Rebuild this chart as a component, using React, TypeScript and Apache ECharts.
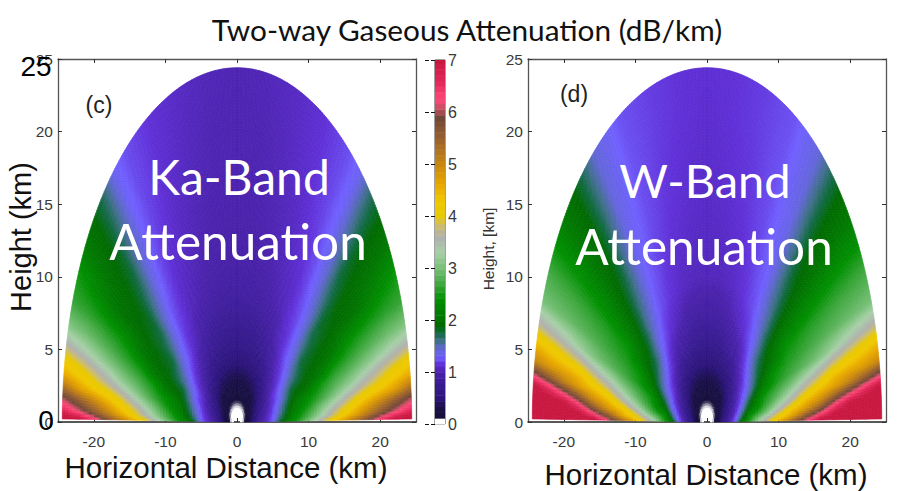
import React, { useEffect, useRef } from "react";
import * as echarts from "echarts";

const elevationsDeg = [0.5, 2, 4, 6, 8, 10, 13, 16, 20, 25, 30, 35, 40, 45, 50, 60, 70, 80, 90];
const rangesKm = [0.5, 1, 1.5, 2, 3, 4, 5, 6, 8, 10, 12, 14, 16, 18, 20, 22, 24.4];

// attenuation (dB/km): one row per elevation, one column per range
const kaAttenuation = [
  [0, .11, .25, .42, .8, 1.08, 1.3, 1.8, 2.4, 3.0, 3.78, 4.45, 5.08, 5.7, 6.4, 7, 7.4],
  [0, .11, .25, .42, .8, 1.05, 1.28, 1.65, 2.28, 2.8, 3.35, 3.95, 4.5, 5.05, 5.6, 6.1, 6.6],
  [0, .11, .25, .4, .78, 1.03, 1.25, 1.6, 2.2, 2.65, 3.15, 3.7, 4.15, 4.6, 5.05, 5.5, 6.0],
  [0, .11, .24, .38, .75, 1.0, 1.23, 1.52, 2.12, 2.5, 2.95, 3.35, 3.8, 4.18, 4.43, 4.68, 5.2],
  [0, .1, .24, .37, .72, .98, 1.2, 1.48, 2.05, 2.4, 2.72, 3.07, 3.42, 3.74, 4.0, 4.28, 4.55],
  [0, .1, .23, .36, .7, .95, 1.18, 1.45, 2.0, 2.32, 2.6, 2.88, 3.12, 3.42, 3.7, 3.95, 4.2],
  [0, .1, .22, .34, .66, .92, 1.15, 1.35, 1.88, 2.05, 2.43, 2.65, 2.82, 3.0, 3.2, 3.38, 3.58],
  [0, .1, .21, .32, .62, .88, 1.1, 1.3, 1.82, 1.92, 2.1, 2.42, 2.58, 2.72, 2.85, 2.97, 3.05],
  [0, .09, .2, .3, .58, .82, 1.1, 1.26, 1.62, 1.86, 1.93, 2.05, 2.32, 2.45, 2.53, 2.6, 2.65],
  [0, .08, .19, .27, .52, .75, 1.0, 1.15, 1.45, 1.78, 1.84, 1.9, 1.95, 2.0, 2.15, 2.3, 2.45],
  [0, .08, .18, .25, .46, .68, .92, 1.06, 1.32, 1.52, 1.72, 1.82, 1.88, 1.93, 1.97, 2.03, 2.1],
  [0, .07, .17, .22, .42, .62, .85, 1.0, 1.22, 1.34, 1.44, 1.56, 1.68, 1.78, 1.83, 1.87, 1.9],
  [0, .07, .16, .2, .4, .58, .78, .93, 1.12, 1.2, 1.27, 1.35, 1.42, 1.48, 1.55, 1.62, 1.68],
  [0, .07, .15, .2, .38, .55, .72, .88, 1.05, 1.14, 1.18, 1.22, 1.26, 1.3, 1.32, 1.34, 1.35],
  [0, .06, .15, .2, .36, .52, .68, .82, .98, 1.06, 1.1, 1.14, 1.17, 1.2, 1.22, 1.23, 1.24],
  [0, .06, .14, .2, .34, .5, .64, .76, .9, 1.0, 1.04, 1.06, 1.08, 1.1, 1.12, 1.13, 1.14],
  [0, .06, .14, .2, .33, .5, .64, .74, .88, .96, 1.0, 1.02, 1.03, 1.05, 1.06, 1.07, 1.08],
  [0, .06, .14, .2, .33, .5, .64, .74, .87, .94, .98, 1.0, 1.01, 1.02, 1.02, 1.03, 1.04],
  [0, .06, .14, .2, .33, .5, .64, .74, .87, .94, .98, 1.0, 1.01, 1.02, 1.02, 1.02, 1.02],
];

const wAttenuation = [
  [0, .11, .26, .5, .9, 1.35, 2.1, 2.65, 3.55, 4.5, 5.5, 6.25, 7.2, 7.6, 7.8, 7.9, 8],
  [0, .11, .26, .5, .88, 1.3, 1.9, 2.45, 3.45, 4.15, 4.75, 5.65, 6.35, 7.05, 7.3, 7.5, 7.8],
  [0, .11, .26, .48, .85, 1.25, 1.75, 2.4, 3.0, 3.75, 4.4, 4.85, 5.5, 6.3, 6.95, 7.2, 7.5],
  [0, .11, .25, .46, .82, 1.2, 1.65, 2.2, 2.75, 3.35, 3.95, 4.5, 4.85, 5.45, 6.0, 6.5, 7.05],
  [0, .1, .25, .44, .8, 1.15, 1.55, 2.05, 2.6, 3.1, 3.55, 4.1, 4.45, 4.7, 5.05, 5.5, 6.0],
  [0, .1, .24, .42, .76, 1.1, 1.45, 1.9, 2.5, 2.9, 3.3, 3.7, 4.05, 4.45, 4.65, 4.75, 5.0],
  [0, .1, .23, .4, .72, 1.05, 1.35, 1.75, 2.42, 2.7, 2.95, 3.25, 3.5, 3.8, 4.0, 4.2, 4.4],
  [0, .1, .22, .38, .68, 1.0, 1.28, 1.6, 2.2, 2.5, 2.7, 2.85, 3.0, 3.2, 3.4, 3.55, 3.7],
  [0, .09, .21, .35, .62, .92, 1.2, 1.42, 1.95, 2.4, 2.55, 2.65, 2.75, 2.83, 2.9, 2.95, 3.0],
  [0, .08, .2, .31, .56, .84, 1.12, 1.3, 1.8, 2.05, 2.4, 2.48, 2.55, 2.6, 2.65, 2.68, 2.72],
  [0, .08, .19, .28, .5, .76, 1.02, 1.22, 1.68, 1.95, 2.1, 2.2, 2.27, 2.32, 2.36, 2.38, 2.4],
  [0, .07, .18, .25, .46, .7, .95, 1.15, 1.5, 1.72, 1.85, 1.93, 1.99, 2.03, 2.06, 2.08, 2.1],
  [0, .07, .16, .22, .42, .64, .88, 1.08, 1.32, 1.5, 1.62, 1.72, 1.81, 1.86, 1.89, 1.9, 1.92],
  [0, .07, .15, .2, .4, .6, .82, 1.0, 1.22, 1.36, 1.46, 1.52, 1.56, 1.6, 1.64, 1.66, 1.68],
  [0, .06, .15, .2, .38, .56, .76, .94, 1.14, 1.25, 1.3, 1.33, 1.36, 1.38, 1.4, 1.41, 1.42],
  [0, .06, .14, .2, .36, .54, .72, .88, 1.05, 1.15, 1.18, 1.21, 1.23, 1.24, 1.25, 1.25, 1.25],
  [0, .06, .14, .2, .34, .52, .68, .82, .98, 1.08, 1.11, 1.14, 1.16, 1.17, 1.18, 1.19, 1.19],
  [0, .06, .14, .2, .34, .52, .68, .8, .95, 1.05, 1.08, 1.1, 1.12, 1.13, 1.14, 1.15, 1.15],
  [0, .06, .14, .2, .34, .52, .68, .8, .95, 1.05, 1.07, 1.08, 1.09, 1.1, 1.11, 1.12, 1.13],
];

// colour scale
const scaleValues = [0, .06, .14, .32, .5, .8, 1, 1.15, 1.3, 1.45, 1.6, 1.75, 1.9, 2.1, 2.4, 2.7, 3, 3.3, 3.6, 3.85, 4, 4.3, 4.6, 5, 5.5, 5.9, 6.05, 6.25, 6.6, 7];
const scaleColors = ["#ffffff", "#ffffff", "#16103c", "#1a1048", "#2a1478", "#3a1c94", "#4a22ac", "#6030d8", "#7060ff", "#6068d0", "#40708a", "#106a40", "#006a00", "#007a00", "#009000", "#40a840", "#78c078", "#a8d0a8", "#b0b0b0", "#d0c060", "#e8c800", "#f0c800", "#e8a800", "#c88810", "#9a6030", "#704838", "#c05060", "#ff4878", "#e02858", "#c81840"];
const barStep = 0.11;
const barLevels = Array.from({ length: 64 }, (_, k) => k);

const xTicks = [-20, -10, 0, 10, 20];

const hex = (c: string) => [parseInt(c.slice(1, 3), 16), parseInt(c.slice(3, 5), 16), parseInt(c.slice(5, 7), 16)];
const scaleRgb = scaleColors.map(hex);
function colorOf(v: number) {
  const x = Math.max(0, Math.min(7, v));
  let k = 0;
  while (k < scaleValues.length - 2 && x > scaleValues[k + 1]) k++;
  const t = (x - scaleValues[k]) / (scaleValues[k + 1] - scaleValues[k]);
  const a = scaleRgb[k], b = scaleRgb[k + 1];
  return `rgb(${Math.round(a[0] + (b[0] - a[0]) * t)},${Math.round(a[1] + (b[1] - a[1]) * t)},${Math.round(a[2] + (b[2] - a[2]) * t)})`;
}

const cellItems: number[][] = [];
for (const side of [-1, 1])
  for (let i = 0; i < elevationsDeg.length - 1; i++)
    for (let j = 0; j < rangesKm.length - 1; j++) cellItems.push([side * rangesKm[j], rangesKm[j], i, j, side]);

function fieldSeries(table: number[][], axisIndex: number) {
  const CELL = 3;
  return {
    type: "custom",
    xAxisIndex: axisIndex,
    yAxisIndex: axisIndex,
    silent: true,
    clip: false,
    encode: { x: 0, y: 1 },
    data: cellItems,
    renderItem: (_p: any, api: any) => {
      const i = api.value(2), j = api.value(3), side = api.value(4);
      const t0 = (elevationsDeg[i] * Math.PI) / 180, t1 = (elevationsDeg[i + 1] * Math.PI) / 180;
      const r0 = rangesKm[j], r1 = rangesKm[j + 1];
      const pt = (t: number, r: number) => api.coord([side * r * Math.cos(t), r * Math.sin(t)]);
      const dist = (a: number[], b: number[]) => Math.hypot(a[0] - b[0], a[1] - b[1]);
      const nt = Math.max(1, Math.ceil(dist(pt(t0, r1), pt(t1, r1)) / CELL));
      const nr = Math.max(1, Math.ceil(dist(pt(t0, r1), pt(t0, r0)) / CELL));
      const v00 = table[i][j], v01 = table[i][j + 1], v10 = table[i + 1][j], v11 = table[i + 1][j + 1];
      const children: any[] = [];
      for (let a = 0; a < nt; a++) {
        const u0 = a / nt, u1 = (a + 1) / nt, um = (a + 0.5) / nt;
        const ta = t0 + (t1 - t0) * u0, tb = t0 + (t1 - t0) * u1;
        for (let b = 0; b < nr; b++) {
          const w0 = b / nr, w1 = (b + 1) / nr, wm = (b + 0.5) / nr;
          const ra = r0 + (r1 - r0) * w0, rb = r0 + (r1 - r0) * w1;
          const v = v00 * (1 - um) * (1 - wm) + v01 * (1 - um) * wm + v10 * um * (1 - wm) + v11 * um * wm;
          const fill = colorOf(v);
          children.push({
            type: "polygon",
            shape: { points: [pt(ta, ra), pt(ta, rb), pt(tb, rb), pt(tb, ra)] },
            style: { fill, stroke: fill, lineWidth: 0.7 },
            silent: true,
          });
        }
      }
      return { type: "group", children };
    },
  };
}

const FRAME = "#555555";
const LABEL = "#3a3a3a";
const SANS = "'Liberation Sans', Arial, sans-serif";

function xAxes(gridIndex: number) {
  const base = {
    type: "value", gridIndex, min: -25, max: 25,
    splitLine: { show: false },
    axisLine: { show: true, onZero: false, lineStyle: { color: FRAME, width: 1.3 } },
    axisTick: { show: true, inside: true, length: 4, customValues: xTicks, lineStyle: { color: "#333" } },
  };
  return [
    { ...base, position: "bottom", axisLine: { show: true, onZero: false, lineStyle: { color: "#222", width: 1.5 } }, axisLabel: { show: true, customValues: xTicks, fontFamily: SANS, fontSize: 15.5, color: LABEL, margin: 11 } },
    { ...base, position: "top", axisLabel: { show: false } },
  ];
}
function yAxes(gridIndex: number) {
  const base = {
    type: "value", gridIndex, min: 0, max: 25, interval: 5,
    splitLine: { show: false },
    axisLine: { show: true, onZero: false, lineStyle: { color: FRAME, width: 1.3 } },
    axisTick: { show: true, inside: true, length: 4, lineStyle: { color: "#333" } },
  };
  return [
    { ...base, position: "left", axisLabel: { show: true, fontFamily: SANS, fontSize: 15.5, color: LABEL, margin: 5 } },
    { ...base, position: "right", axisLabel: { show: false } },
  ];
}

const txt = (text: string, x: number, y: number, font: string, fill: string, rotation = 0) => ({
  type: "text", x, y, rotation, silent: true, z: 50,
  style: { text, font, fill, textAlign: "center", textVerticalAlign: "middle" },
});

export default function App() {
  const ref = useRef<HTMLDivElement>(null);
  useEffect(() => {
    const chart = echarts.init(ref.current!, undefined, { renderer: "svg" });
    const lato = "Lato, 'Open Sans', sans-serif";
    chart.setOption({
      animation: false,
      backgroundColor: "#ffffff",
      title: {
        text: "Two-way Gaseous Attenuation (dB/km)",
        left: 462, top: 9, textAlign: "center",
        textStyle: { fontFamily: lato, fontSize: 29.8, fontWeight: "normal", color: "#111", align: "center" },
      },
      grid: [
        { left: 58, top: 59, width: 358, height: 363, show: false },
        { left: 528, top: 59, width: 358, height: 363, show: false },
        { left: 435, top: 60, width: 10, height: 364, show: true, borderColor: "#444", borderWidth: 1, backgroundColor: "transparent" },
      ],
      xAxis: [...xAxes(0), ...xAxes(1),
        { type: "value", gridIndex: 2, min: 0, max: 1, show: false }],
      yAxis: [...yAxes(0), ...yAxes(1),
        {
          type: "value", gridIndex: 2, min: 0, max: 7, interval: 1, position: "right",
          splitLine: { show: false },
          axisLine: { show: false },
          axisTick: { show: true, inside: true, length: 10, lineStyle: { color: "#111", type: "dashed" } },
          axisLabel: { fontFamily: SANS, fontSize: 16, color: LABEL, margin: 3 },
        }],
      series: [
        fieldSeries(kaAttenuation, 0),
        fieldSeries(wAttenuation, 2),
        {
          type: "custom",
          xAxisIndex: 4, yAxisIndex: 4, silent: true, z: 1,
          encode: { y: 0 },
          data: barLevels.map((k) => [k * barStep]),
          renderItem: (_p: any, api: any) => {
            const lo = api.value(0);
            const a = api.coord([0, lo]), b = api.coord([1, Math.min(7, lo + barStep)]);
            return {
              type: "rect",
              shape: { x: a[0], y: b[1], width: b[0] - a[0], height: a[1] - b[1] + 0.4 },
              style: { fill: colorOf(lo + barStep / 2) },
            };
          },
        },
      ],
      graphic: [
        txt("Horizontal Distance (km)", 226, 467, `29.5px ${SANS}`, "#111"),
        txt("Horizontal Distance (km)", 706, 474, `29.5px ${SANS}`, "#111"),
        txt("Height (km)", 21, 237, `29px ${SANS}`, "#111", Math.PI / 2),
        txt("Height, [km]", 488, 249, `15.5px ${SANS}`, "#333", Math.PI / 2),
        txt("25", 36, 66, `28px ${SANS}`, "#000"),
        txt("0", 46, 420, `28px ${SANS}`, "#000"),
        txt("(c)", 99, 105, `23px ${SANS}`, "#222"),
        txt("(d)", 574, 94, `23px ${SANS}`, "#222"),
        txt("Ka-Band", 239, 176, `48px ${lato}`, "#ffffff"),
        txt("Attenuation", 238, 241, `49.5px ${lato}`, "#ffffff"),
        txt("W-Band", 705, 180, `47px ${lato}`, "#ffffff"),
        txt("Attenuation", 704, 246, `49.5px ${lato}`, "#ffffff"),
      ],
    });
    return () => chart.dispose();
  }, []);
  return <div ref={ref} style={{ position: "fixed", left: 0, top: 0, width: 905, height: 491 }} />;
}
